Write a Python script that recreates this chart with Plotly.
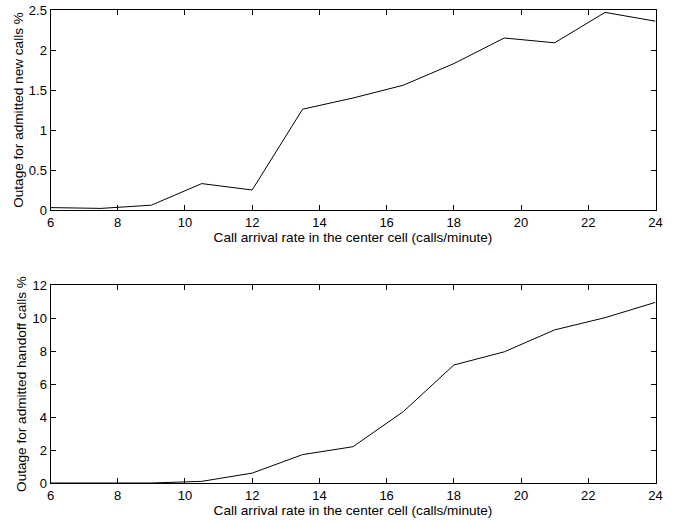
import plotly.graph_objects as go

arrival_rate = [6, 7.5, 9, 10.5, 12, 13.5, 15, 16.5, 18, 19.5, 21, 22.5, 24]
outage_new = [0.03, 0.02, 0.06, 0.33, 0.25, 1.26, 1.40, 1.56, 1.83, 2.15, 2.09, 2.47, 2.36]
outage_handoff = [0.0, 0.0, 0.0, 0.1, 0.6, 1.72, 2.2, 4.33, 7.15, 7.95, 9.28, 10.02, 10.95]

x_ticks = [6, 8, 10, 12, 14, 16, 18, 20, 22, 24]
y_ticks_top = [0, 0.5, 1, 1.5, 2, 2.5]
y_ticks_bottom = [0, 2, 4, 6, 8, 10, 12]

W, H = 676, 522


def px_x(x):
    return x / W


def px_y(y):
    return (H - y) / H


fig = go.Figure()
fig.add_trace(go.Scatter(x=arrival_rate, y=outage_new, mode="lines",
                         line=dict(color="black", width=1), xaxis="x", yaxis="y"))
fig.add_trace(go.Scatter(x=arrival_rate, y=outage_handoff, mode="lines",
                         line=dict(color="black", width=1), xaxis="x2", yaxis="y2"))

tick_font = dict(family="Liberation Sans, Arial, Helvetica, sans-serif", size=13, color="black")
title_font = dict(family="Liberation Sans, Arial, Helvetica, sans-serif", size=13.6, color="black")
xd = [px_x(50.5), px_x(655.5)]
axis_common = dict(showgrid=False, zeroline=False, showline=True, linecolor="black",
                   linewidth=1, mirror="ticks", ticks="inside", ticklen=5,
                   tickcolor="black", tickwidth=1, tickfont=tick_font, automargin=False,
                   ticklabeloverflow="allow")

fig.update_layout(
    width=W, height=H, margin=dict(l=0, r=0, t=0, b=0),
    paper_bgcolor="white", plot_bgcolor="white", showlegend=False, font=tick_font,
    xaxis=dict(domain=xd, range=[6, 24], tickvals=x_ticks, anchor="y",
               title=dict(text="Call arrival rate in the center cell (calls/minute)",
                          font=title_font, standoff=2), **axis_common),
    yaxis=dict(domain=[px_y(210), px_y(10)], range=[0, 2.5],
               tickvals=y_ticks_top, ticktext=["0", "0.5", "1", "1.5", "2", "2.5"], anchor="x",
               title=dict(text="Outage for admitted new calls %", font=title_font, standoff=2),
               **axis_common),
    xaxis2=dict(domain=xd, range=[6, 24], tickvals=x_ticks, anchor="y2",
                title=dict(text="Call arrival rate in the center cell (calls/minute)",
                           font=title_font, standoff=2), **axis_common),
    yaxis2=dict(domain=[px_y(483), px_y(285)], range=[0, 12],
                tickvals=y_ticks_bottom, anchor="x2",
                title=dict(text="Outage for admitted handoff calls %", font=title_font, standoff=2),
                **axis_common),
)

fig.write_html("out.html", config={"displayModeBar": False},
               post_script="document.body.style.margin='0';document.body.style.overflow='hidden';")
